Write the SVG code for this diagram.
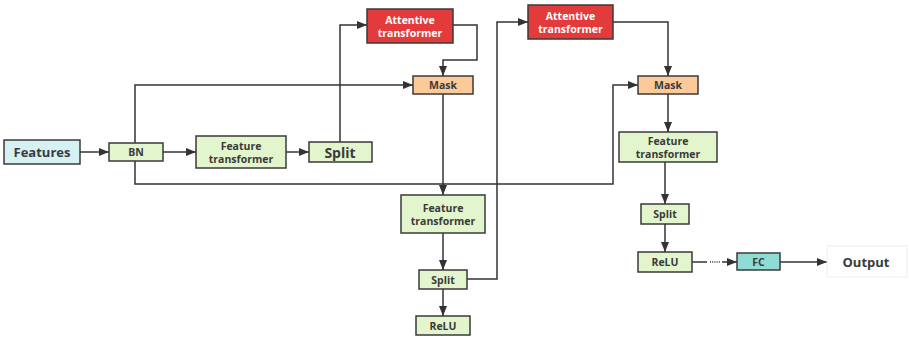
<svg xmlns="http://www.w3.org/2000/svg" width="909" height="338" viewBox="0 0 909 338">
<defs>
<style>
.box{stroke:#3a3a3a;stroke-width:1.5}
.g{fill:#e3f5cd}
.c{fill:#d6f1f3}
.r{fill:#e33b3b}
.o{fill:#fcca98}
.t{fill:#8fdcd5}
text{font-family:"Open Sans","Noto Sans","Liberation Sans",sans-serif;font-weight:bold;fill:#3a3a3a;text-anchor:middle;dominant-baseline:central;font-size:10.5px}
text.w{fill:#ffffff}
.ln{fill:none;stroke:#333;stroke-width:1.5}
</style>
<marker id="ah" markerWidth="10" markerHeight="8" refX="10" refY="4" orient="auto" markerUnits="userSpaceOnUse">
<path d="M0,0 L10,4 L0,8 Z" fill="#333"/>
</marker>
</defs>
<rect width="909" height="338" fill="#ffffff"/>
<g id="connectors">
<path class="ln" d="M80,152 H109" marker-end="url(#ah)"/>
<path class="ln" d="M163,152 H196" marker-end="url(#ah)"/>
<path class="ln" d="M286,152 H309" marker-end="url(#ah)"/>
<path class="ln" d="M340,142 V25 H367" marker-end="url(#ah)"/>
<path class="ln" d="M135,143 V85 H413" marker-end="url(#ah)"/>
<path class="ln" d="M135,161 V184 H613 V85 H638" marker-end="url(#ah)"/>
<path class="ln" d="M453,25 H477 V60 H443 V76" marker-end="url(#ah)"/>
<path class="ln" d="M443,94 V195" marker-end="url(#ah)"/>
<path class="ln" d="M443,233 V270" marker-end="url(#ah)"/>
<path class="ln" d="M443,289 V316" marker-end="url(#ah)"/>
<path class="ln" d="M467,279 H497 V22 H528" marker-end="url(#ah)"/>
<path class="ln" d="M613,22 H668 V76" marker-end="url(#ah)"/>
<path class="ln" d="M668,94 V132" marker-end="url(#ah)"/>
<path class="ln" d="M665,162 V204" marker-end="url(#ah)"/>
<path class="ln" d="M665,224 V252" marker-end="url(#ah)"/>
<path class="ln" d="M692,262 H707"/>
<path class="ln" d="M710,262 H721" stroke-dasharray="1,1.2" stroke-width="1"/>
<path class="ln" d="M722,262 H737" marker-end="url(#ah)"/>
<path class="ln" d="M780,262 H827" marker-end="url(#ah)"/>
</g>
<g id="features"><rect class="box c" x="4" y="140" width="76" height="24"/><text x="42" y="152" style="font-size:13px">Features</text></g>
<g id="bn"><rect class="box g" x="109" y="143" width="54" height="18"/><text x="136" y="152">BN</text></g>
<g id="ft1"><rect class="box g" x="196" y="136" width="90" height="32"/><text x="241" y="146">Feature</text><text x="241" y="159">transformer</text></g>
<g id="split1"><rect class="box g" x="309" y="142" width="63" height="20"/><text x="340" y="152" style="font-size:14px">Split</text></g>
<g id="att1"><rect class="box r" x="367" y="9" width="86" height="34"/><text class="w" x="410" y="19.5">Attentive</text><text class="w" x="410" y="32.5">transformer</text></g>
<g id="mask1"><rect class="box o" x="413" y="76" width="60" height="18"/><text x="443" y="85">Mask</text></g>
<g id="ft2"><rect class="box g" x="401" y="195" width="84" height="38"/><text x="443" y="207.5">Feature</text><text x="443" y="221">transformer</text></g>
<g id="split2"><rect class="box g" x="419" y="270" width="48" height="19"/><text x="443" y="279.5">Split</text></g>
<g id="relu1"><rect class="box g" x="416" y="316" width="54" height="19"/><text x="443" y="325.5">ReLU</text></g>
<g id="att2"><rect class="box r" x="528" y="5" width="85" height="34"/><text class="w" x="570.5" y="15.5">Attentive</text><text class="w" x="570.5" y="28.5">transformer</text></g>
<g id="mask2"><rect class="box o" x="638" y="76" width="60" height="18"/><text x="668" y="85">Mask</text></g>
<g id="ft3"><rect class="box g" x="619" y="132" width="98" height="30"/><text x="668" y="140.5">Feature</text><text x="668" y="154">transformer</text></g>
<g id="split3"><rect class="box g" x="641" y="204" width="48" height="20"/><text x="665" y="214">Split</text></g>
<g id="relu2"><rect class="box g" x="638" y="252" width="54" height="20"/><text x="665" y="262">ReLU</text></g>
<g id="fc"><rect class="box t" x="737" y="253" width="43" height="17"/><text x="758.5" y="261.5">FC</text></g>
<g id="output"><rect x="827" y="246" width="80" height="31" fill="#ffffff" stroke="#eeeeee" stroke-width="1"/><text x="866" y="262" style="font-size:13px">Output</text></g>
</svg>
